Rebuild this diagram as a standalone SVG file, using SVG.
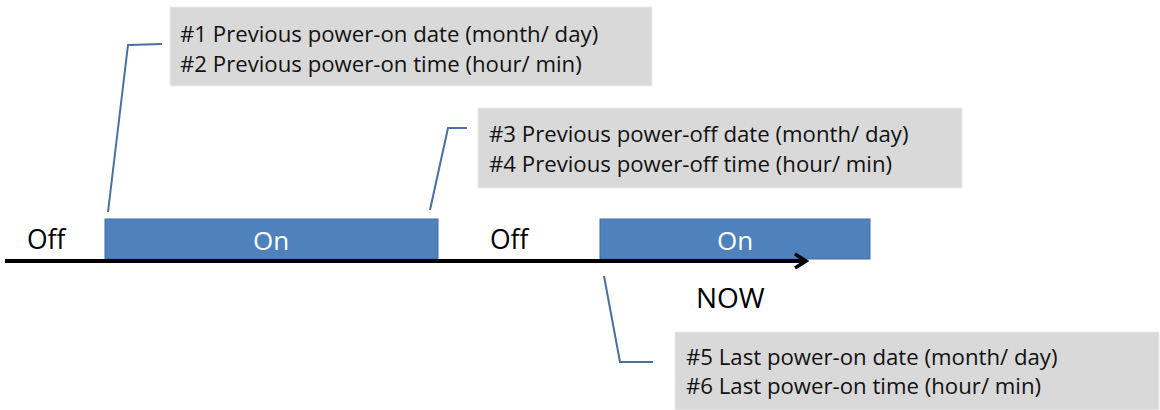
<svg xmlns="http://www.w3.org/2000/svg" width="1160" height="410" viewBox="0 0 1160 410">
<style>
.box{fill:#D9D9D9;stroke:#ECECEC;stroke-width:1}
.on{fill:#4F81BD;stroke:#3F6FA6;stroke-width:1}
.t{font-family:"Open Sans","Liberation Sans",sans-serif;font-size:22.2px;fill:#111}
.lbl{font-family:"Open Sans","Liberation Sans",sans-serif;font-size:26.5px;fill:#000}
.onl{font-family:"Open Sans","Liberation Sans",sans-serif;font-size:26px;fill:#fff;text-anchor:middle}
.call{fill:none;stroke:#4A70A0;stroke-width:2}
</style>
<defs>
<marker id="ah" markerWidth="16" markerHeight="18" refX="13" refY="9" orient="auto" markerUnits="userSpaceOnUse">
<path d="M2,2 L13,9 L2,16" fill="none" stroke="#000" stroke-width="3.5"/>
</marker>
</defs>
<g id="on1"><rect class="on" x="105" y="219" width="333" height="40"/><text class="onl" x="271" y="250">On</text></g>
<g id="on2"><rect class="on" x="600" y="219" width="270" height="40"/><text class="onl" x="735" y="250">On</text></g>
<g id="off1"><text class="lbl" x="27" y="249">Off</text></g>
<g id="off2"><text class="lbl" x="490" y="249">Off</text></g>
<g id="now"><text class="lbl" x="696" y="308" style="font-size:28px">NOW</text></g>
<g id="box1"><rect class="box" x="170" y="7" width="482" height="79"/>
<text class="t" x="180" y="42">#1 Previous power-on date (month/ day)</text>
<text class="t" x="180" y="72">#2 Previous power-on time (hour/ min)</text></g>
<g id="box2"><rect class="box" x="478" y="108" width="484" height="80"/>
<text class="t" x="489" y="142">#3 Previous power-off date (month/ day)</text>
<text class="t" x="489" y="172">#4 Previous power-off time (hour/ min)</text></g>
<g id="box3"><rect class="box" x="675" y="332" width="484" height="78"/>
<text class="t" x="686" y="365">#5 Last power-on date (month/ day)</text>
<text class="t" x="686" y="394">#6 Last power-on time (hour/ min)</text></g>
<g id="connectors">
<line x1="5" y1="261" x2="806" y2="261" stroke="#000" stroke-width="4" marker-end="url(#ah)"/>
<polyline class="call" points="108,212 128,45 162,44"/>
<polyline class="call" points="430,210 448,128 467,128"/>
<polyline class="call" points="604,276 620,362 653,362"/>
</g>
</svg>
